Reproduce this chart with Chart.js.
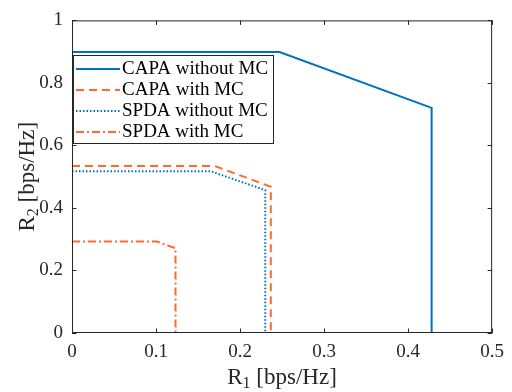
<!DOCTYPE html>
<html>
<head>
<meta charset="utf-8">
<script src="https://cdn.jsdelivr.net/npm/chart.js@4.4.1/dist/chart.umd.min.js"></script>
<style>
  html, body { margin: 0; padding: 0; background: #fff; }
  #wrap { width: 512px; height: 392px; }
</style>
</head>
<body>
<div id="wrap"><canvas id="region" width="512" height="392"></canvas></div>
<script>
// ===============================
// Rate region data (R1, R2 in bps/Hz)
// ===============================

const capaNoMcR1 = [0, 0.247, 0.428, 0.428];
const capaNoMcR2 = [0.899, 0.899, 0.72, 0];

const capaMcR1 = [0, 0.170, 0.2366, 0.2366];
const capaMcR2 = [0.534, 0.534, 0.468, 0];

const spdaNoMcR1 = [0, 0.165, 0.2300, 0.2300];
const spdaNoMcR2 = [0.5175, 0.5175, 0.457, 0];

const spdaMcR1 = [0, 0.101, 0.1232, 0.1232];
const spdaMcR2 = [0.2925, 0.2925, 0.271, 0];

const xTicks = [0, 0.1, 0.2, 0.3, 0.4, 0.5];
const yTicks = [0, 0.2, 0.4, 0.6, 0.8, 1];

const BLUE = "#0072BD";
const ORANGE = "#FF6A2C";
const AXIS = "#262626";
const FONT = "'Liberation Serif', 'Times New Roman', serif";

const pts = (xs, ys) => xs.map((x, i) => ({ x: x, y: ys[i] }));

// ===============================
// Box, inner ticks, axis titles, legend
// ===============================

const frame = {
    id: "frame",
    afterDatasetsDraw(chart) {
        const c = chart.ctx;
        const a = chart.chartArea;
        const xs = chart.scales.x, ys = chart.scales.y;
        const tl = 4.5;

        c.save();
        c.strokeStyle = AXIS;
        c.lineWidth = 1;
        c.strokeRect(a.left + 0.5, a.top + 0.5, a.right - a.left - 1, a.bottom - a.top - 1);

        c.beginPath();
        xTicks.forEach(v => {
            const px = Math.round(xs.getPixelForValue(v)) + 0.5;
            c.moveTo(px, a.bottom); c.lineTo(px, a.bottom - tl);
            c.moveTo(px, a.top); c.lineTo(px, a.top + tl);
        });
        yTicks.forEach(v => {
            const py = Math.round(ys.getPixelForValue(v)) + 0.5;
            c.moveTo(a.left, py); c.lineTo(a.left + tl, py);
            c.moveTo(a.right, py); c.lineTo(a.right - tl, py);
        });
        c.stroke();

        // axis titles with subscripts
        const label = (main, sub, rest, cx, cy, rot) => {
            c.save();
            c.translate(cx, cy);
            c.rotate(rot);
            c.fillStyle = AXIS;
            c.textBaseline = "alphabetic";
            c.font = "23px " + FONT;
            const w1 = c.measureText(main).width;
            const w3 = c.measureText(rest).width;
            c.font = "16px " + FONT;
            const w2 = c.measureText(sub).width;
            let x = -(w1 + w2 + w3) / 2;
            c.font = "23px " + FONT;
            c.fillText(main, x, 8); x += w1;
            c.font = "16px " + FONT;
            c.fillText(sub, x, 12); x += w2;
            c.font = "23px " + FONT;
            c.fillText(rest, x, 8);
            c.restore();
        };
        label("R", "1", " [bps/Hz]", (a.left + a.right) / 2, 376, 0);
        label("R", "2", " [bps/Hz]", 26, (a.top + a.bottom) / 2, -Math.PI / 2);

        // legend
        const lx = 73.5, ly = 55.5, lw = 200, lh = 88;
        c.fillStyle = "#fff";
        c.fillRect(lx, ly, lw, lh);
        c.strokeStyle = AXIS;
        c.strokeRect(lx, ly, lw, lh);
        chart.data.datasets.forEach((ds, i) => {
            const y = 69 + i * 21;
            c.beginPath();
            c.strokeStyle = ds.borderColor;
            c.lineWidth = ds.borderWidth;
            c.setLineDash(ds.borderDash || []);
            c.moveTo(76, y); c.lineTo(120, y);
            c.stroke();
            c.setLineDash([]);
            c.fillStyle = "#000";
            c.font = "19px " + FONT;
            c.textBaseline = "middle";
            c.fillText(ds.label, 122, y);
        });
        c.restore();
    }
};

// ===============================
// Chart
// ===============================

const ctx = document.getElementById("region");

const line = (label, data, color, dash) => ({
    label: label,
    data: data,
    showLine: true,
    borderColor: color,
    backgroundColor: color,
    borderWidth: 2,
    borderDash: dash,
    pointRadius: 0,
    fill: false,
    tension: 0
});

new Chart(ctx, {
    type: "scatter",
    data: {
        datasets: [
            line("CAPA without MC", pts(capaNoMcR1, capaNoMcR2), BLUE, []),
            line("CAPA with MC", pts(capaMcR1, capaMcR2), ORANGE, [8, 5]),
            line("SPDA without MC", pts(spdaNoMcR1, spdaNoMcR2), BLUE, [1.5, 2]),
            line("SPDA with MC", pts(spdaMcR1, spdaMcR2), ORANGE, [8, 3, 2, 3])
        ]
    },
    options: {
        responsive: false,
        animation: false,
        layout: { padding: { top: 13, right: 18, left: 0, bottom: 0 } },
        plugins: {
            legend: { display: false },
            tooltip: { enabled: false }
        },
        scales: {
            x: {
                type: "linear",
                min: 0,
                max: 0.5,
                afterBuildTicks: s => { s.ticks = xTicks.map(v => ({ value: v })); },
                afterFit: s => { s.height = 59; },
                border: { display: false },
                grid: { display: false, drawTicks: false },
                ticks: {
                    padding: 8,
                    color: AXIS,
                    font: { family: FONT, size: 19 },
                    maxRotation: 0,
                    callback: v => String(v)
                }
            },
            y: {
                type: "linear",
                min: 0,
                max: 1,
                afterBuildTicks: s => { s.ticks = yTicks.map(v => ({ value: v })); },
                afterFit: s => { s.width = 72; },
                border: { display: false },
                grid: { display: false, drawTicks: false },
                ticks: {
                    padding: 9,
                    color: AXIS,
                    font: { family: FONT, size: 19 },
                    callback: v => String(v)
                }
            }
        }
    },
    plugins: [frame]
});
</script>
</body>
</html>
